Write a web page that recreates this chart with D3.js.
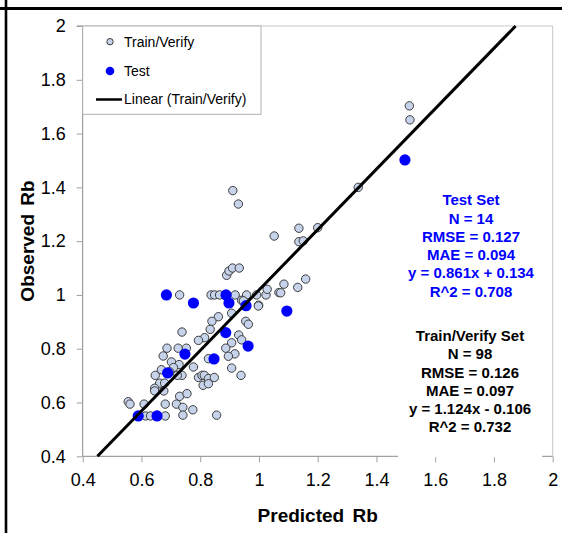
<!DOCTYPE html>
<html>
<head>
<meta charset="utf-8">
<script src="https://cdn.jsdelivr.net/npm/d3@7"></script>
<style>
  body { margin: 0; background: #fff; }
  svg { display: block; font-family: "Liberation Sans", Arial, sans-serif; }
</style>
</head>
<body>
<svg id="chart" width="562" height="533"></svg>
<script>
// ticks shared by both axes
const tickVals = [0.4, 0.6, 0.8, 1, 1.2, 1.4, 1.6, 1.8, 2]

// Train/Verify points [predicted, observed]
const trainPred = [0.890, 0.898, 0.910, 0.933, 0.730, 0.837, 0.849, 0.866, 0.919, 0.958,
  0.992, 1.024, 1.068, 1.028, 0.941, 0.999, 0.907, 0.862, 0.840, 0.955,
  0.964, 0.834, 0.738, 0.931, 0.941, 0.815, 0.794, 0.907, 0.887, 0.687,
  0.725, 0.753, 0.918, 0.896, 0.674, 0.702, 0.728, 0.709, 0.777, 0.738,
  0.722, 0.647, 0.668, 0.828, 0.907, 0.939, 0.794, 0.806, 0.814, 0.828,
  0.848, 0.810, 0.828, 0.662, 0.679, 0.645, 0.676, 0.645, 0.730, 0.755,
  0.555, 0.561, 0.609, 0.681, 0.719, 0.741, 0.775, 0.741, 0.856, 0.614,
  0.631, 0.681, 0.696, 0.911, 0.930, 1.052, 1.136, 1.136, 1.151, 1.200,
  1.085, 1.074, 1.132, 1.159, 0.998, 0.947, 1.338, 1.512, 1.514]
const trainObs = [1.073, 1.089, 1.100, 1.100, 1.000, 1.000, 1.000, 1.000, 1.000, 1.000,
  1.000, 1.000, 1.009, 1.021, 0.980, 0.962, 0.932, 0.919, 0.902, 0.902,
  0.891, 0.872, 0.862, 0.851, 0.833, 0.841, 0.831, 0.822, 0.802, 0.802,
  0.802, 0.802, 0.781, 0.772, 0.773, 0.751, 0.741, 0.730, 0.732, 0.701,
  0.701, 0.701, 0.722, 0.763, 0.728, 0.701, 0.693, 0.701, 0.701, 0.689,
  0.693, 0.664, 0.670, 0.672, 0.672, 0.653, 0.643, 0.643, 0.623, 0.633,
  0.603, 0.594, 0.594, 0.594, 0.594, 0.582, 0.573, 0.553, 0.553, 0.550,
  0.550, 0.550, 0.714, 1.388, 1.338, 1.219, 1.248, 1.198, 1.201, 1.250,
  1.040, 1.008, 1.028, 1.059, 0.959, 0.978, 1.400, 1.703, 1.651]

// Test points
const testPred = [0.685, 0.777, 0.888, 0.898, 0.956, 0.887, 0.963, 0.748, 0.847, 0.689, 0.589, 0.653, 1.095, 1.497]
const testObs = [1.000, 0.970, 1.000, 0.970, 0.960, 0.860, 0.810, 0.780, 0.762, 0.710, 0.550, 0.550, 0.940, 1.502]

// linear fit of Train/Verify
const fitSlope = 1.124
const fitIntercept = -0.106

const testStats = ['Test Set', 'N = 14', 'RMSE = 0.127', 'MAE = 0.094', 'y = 0.861x + 0.134', 'R^2 = 0.708']
const trainStats = ['Train/Verify Set', 'N = 98', 'RMSE = 0.126', 'MAE = 0.097', 'y = 1.124x - 0.106', 'R^2 = 0.732']

const svg = d3.select('#chart')

const xScale = d3.scaleLinear().domain([0.4, 2]).range([82.7, 552.7])
const yScale = d3.scaleLinear().domain([0.4, 2]).range([456.3, 26])

// outer frame lines
svg.append('line').attr('x1', 0).attr('x2', 562).attr('y1', 8.5).attr('y2', 8.5)
    .attr('stroke', '#000').attr('stroke-width', 3)
svg.append('line').attr('x1', 6).attr('x2', 6).attr('y1', 0).attr('y2', 533)
    .attr('stroke', '#000').attr('stroke-width', 2.6)

// plot border top/right
svg.append('path')
    .attr('d', `M${xScale(0.4)},${yScale(2)}H${xScale(2)}V${yScale(0.4)}`)
    .attr('fill', 'none').attr('stroke', '#c8c8c8').attr('stroke-width', 1)

const yAxisG = svg.append('g')
    .attr('transform', `translate(${xScale(0.4)},0)`)
    .call(d3.axisLeft(yScale).tickValues(tickVals).tickSize(6).tickPadding(11).tickFormat(d => d))
yAxisG.select('.domain').attr('stroke', '#8a8a8a').attr('d', `M-6,${yScale(2)}H0V${yScale(0.4)}`)
yAxisG.selectAll('.tick line').attr('stroke', '#a0a0a0')
yAxisG.selectAll('.tick text').attr('font-size', 18).attr('fill', '#000')
    .attr('font-family', '"Liberation Sans", Arial, sans-serif')

const xAxisG = svg.append('g')
    .attr('transform', `translate(0,${yScale(0.4)})`)
    .call(d3.axisBottom(xScale).tickValues(tickVals).tickSize(6).tickPadding(11).tickFormat(d => d))
xAxisG.select('.domain').attr('stroke', '#8a8a8a').attr('d', `M${xScale(0.4)},0H${xScale(2)}`)
xAxisG.selectAll('.tick line').attr('stroke', '#a0a0a0')
xAxisG.selectAll('.tick text').attr('font-size', 18).attr('fill', '#000')
    .attr('font-family', '"Liberation Sans", Arial, sans-serif')

// white box behind the stats text hides part of the x axis line
svg.append('rect')
    .attr('x', 398).attr('y', 185).attr('width', 144).attr('height', 272.3)
    .attr('fill', '#fff')

const train = trainPred.map((p, i) => ({ p, o: trainObs[i] }))
const test = testPred.map((p, i) => ({ p, o: testObs[i] }))

svg.append('g').selectAll('circle')
    .data(train).enter().append('circle')
    .attr('cx', d => xScale(d.p))
    .attr('cy', d => yScale(d.o))
    .attr('r', 4.2)
    .attr('fill', '#c6d3ea')
    .attr('stroke', '#3c3c3c')
    .attr('stroke-width', 1)

svg.append('g').selectAll('circle')
    .data(test).enter().append('circle')
    .attr('cx', d => xScale(d.p))
    .attr('cy', d => yScale(d.o))
    .attr('r', 5.6)
    .attr('fill', '#0000ff')

// fitted line clipped to the plot
const xLo = (0.4 - fitIntercept) / fitSlope
const xHi = (2 - fitIntercept) / fitSlope
svg.append('line')
    .attr('x1', xScale(xLo)).attr('y1', yScale(fitSlope * xLo + fitIntercept))
    .attr('x2', xScale(xHi)).attr('y2', yScale(fitSlope * xHi + fitIntercept))
    .attr('stroke', '#000').attr('stroke-width', 3)

// legend
const lg = svg.append('g')
lg.append('rect').attr('x', 82.7).attr('y', 26).attr('width', 178.3).attr('height', 88.3)
    .attr('fill', '#fff').attr('stroke', '#b0b0b0')
lg.append('circle').attr('cx', 110).attr('cy', 41.7).attr('r', 3.2)
    .attr('fill', '#c6d3ea').attr('stroke', '#3c3c3c')
lg.append('circle').attr('cx', 110).attr('cy', 71).attr('r', 4.3).attr('fill', '#0000ff')
lg.append('line').attr('x1', 96).attr('x2', 122).attr('y1', 99.5).attr('y2', 99.5)
    .attr('stroke', '#000').attr('stroke-width', 2.5)
lg.selectAll('text')
    .data(['Train/Verify', 'Test', 'Linear (Train/Verify)'])
    .enter().append('text')
    .attr('x', 124)
    .attr('y', (d, i) => [41.7, 71, 99.5][i])
    .attr('dy', '0.35em')
    .attr('font-size', 14)
    .text(d => d)

// stats blocks
svg.append('g').selectAll('text')
    .data(testStats).enter().append('text')
    .attr('x', 471)
    .attr('y', (d, i) => 200 + i * 18.3)
    .attr('dy', '0.35em')
    .attr('text-anchor', 'middle')
    .attr('font-size', 15).attr('font-weight', 'bold')
    .attr('fill', '#0000ff')
    .text(d => d)

svg.append('g').selectAll('text')
    .data(trainStats).enter().append('text')
    .attr('x', 470)
    .attr('y', (d, i) => 336 + i * 18.2)
    .attr('dy', '0.35em')
    .attr('text-anchor', 'middle')
    .attr('font-size', 15).attr('font-weight', 'bold')
    .attr('fill', '#000')
    .text(d => d)

// axis titles
svg.append('text')
    .attr('x', 317.7).attr('y', 522)
    .attr('text-anchor', 'middle')
    .attr('font-size', 19).attr('font-weight', 'bold')
    .attr('word-spacing', 3)
    .text('Predicted Rb')

svg.append('text')
    .attr('transform', 'translate(34,241) rotate(-90)')
    .attr('text-anchor', 'middle')
    .attr('font-size', 19).attr('font-weight', 'bold')
    .attr('word-spacing', 3)
    .text('Observed Rb')
</script>
</body>
</html>
